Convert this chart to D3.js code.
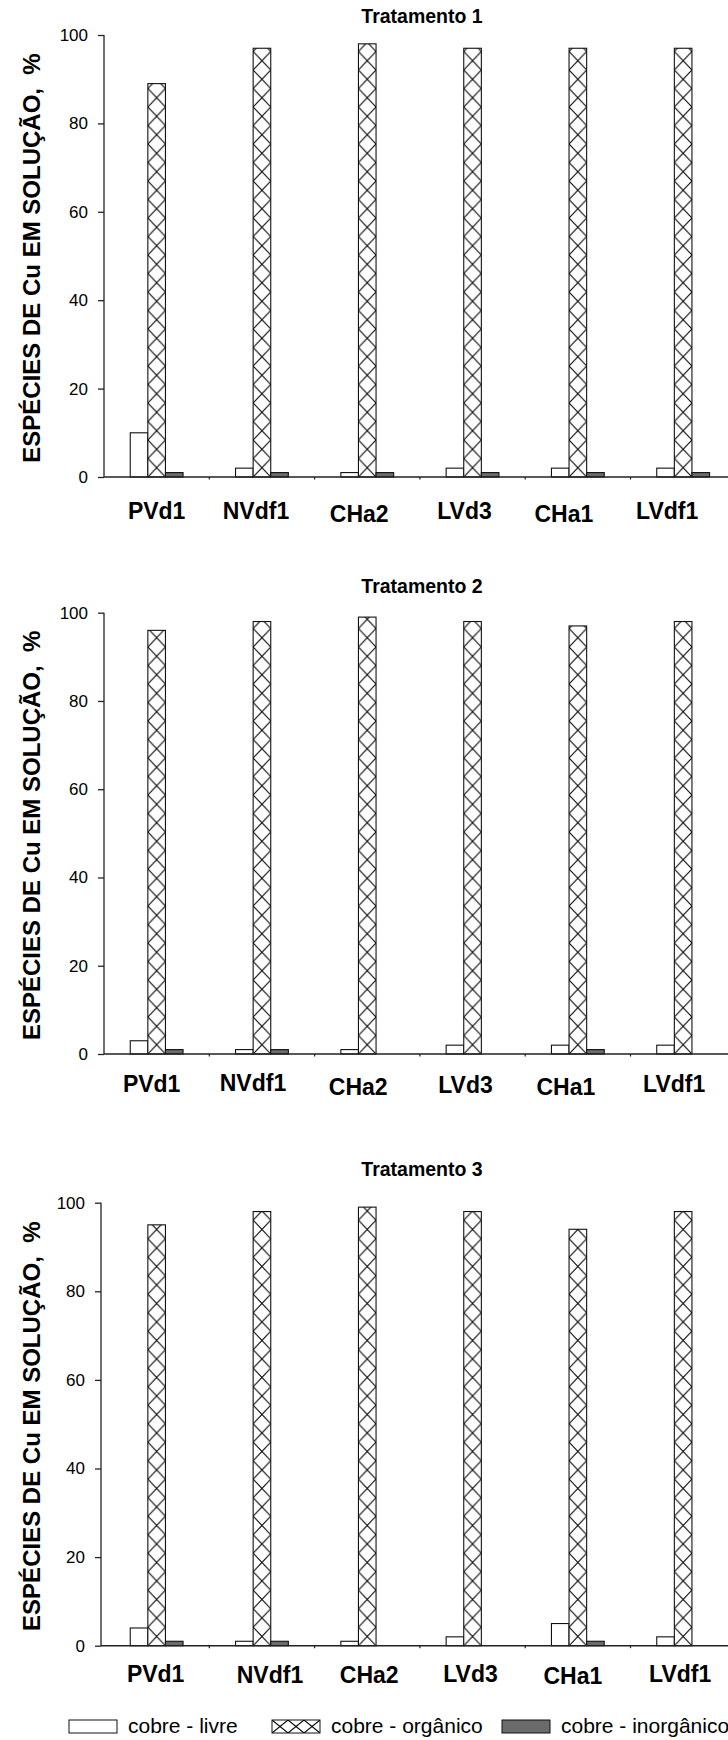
<!DOCTYPE html>
<html>
<head>
<meta charset="utf-8">
<script src="https://cdn.jsdelivr.net/npm/d3@7"></script>
<style>
  html, body { margin: 0; padding: 0; background: #fff; }
  svg { display: block; }
</style>
</head>
<body>
<script>
// Soil samples (categories) and copper species series
const categories = ["PVd1", "NVdf1", "CHa2", "LVd3", "CHa1", "LVdf1"];
const seriesNames = ["cobre - livre", "cobre - orgânico", "cobre - inorgânico"];
const yTicks = [0, 20, 40, 60, 80, 100];
const treatmentTitles = ["Tratamento 1", "Tratamento 2", "Tratamento 3"];
const yLabel = "ESPÉCIES DE Cu EM SOLUÇÃO,  %";

// Percent of Cu in solution per treatment: [livre, orgânico, inorgânico] per soil
const t1Livre = [10, 2, 1, 2, 2, 2];
const t1Organico = [89, 97, 98, 97, 97, 97];
const t1Inorganico = [1, 1, 1, 1, 1, 1];

const t2Livre = [3, 1, 1, 2, 2, 2];
const t2Organico = [96, 98, 99, 98, 97, 98];
const t2Inorganico = [1, 1, 0, 0, 1, 0];

const t3Livre = [4, 1, 1, 2, 5, 2];
const t3Organico = [95, 98, 99, 98, 94, 98];
const t3Inorganico = [1, 1, 0, 0, 1, 0];

const treatments = [
  [t1Livre, t1Organico, t1Inorganico],
  [t2Livre, t2Organico, t2Inorganico],
  [t3Livre, t3Organico, t3Inorganico]
];

// Page layout for the three stacked panels
const W = 728, H = 1740;
const FONT = "'Liberation Sans', Arial, Helvetica, sans-serif";
const panelLayout = [
  { axisX: 104, yTop: 35,    yBase: 477,    titleY: 23,   labelY: 519,
    labelDx: [0, -6, -8, -8, -14, -16], labelDy: [0, 0, 3, 0, 3, 0] },
  { axisX: 104, yTop: 612.7, yBase: 1054,   titleY: 593,  labelY: 1092,
    labelDx: [-5, -9, -9, -7, -12, -9], labelDy: [0, -1, 3, 1, 3, 0] },
  { axisX: 101, yTop: 1202.7, yBase: 1645.7, titleY: 1176, labelY: 1682,
    labelDx: [-1, 8, 2, -2, -5, -3], labelDy: [0, 1, 1, 0, 2, 0] }
];
const bandStart = 104, bandStep = 105.3, barW = 17.6, hatchH = 18.5;

const svg = d3.select("body").append("svg")
  .attr("width", W).attr("height", H)
  .attr("viewBox", `0 0 ${W} ${H}`);
const defs = svg.append("defs");

const x = d3.scaleBand()
  .domain(categories)
  .range([bandStart, bandStart + bandStep * categories.length])
  .paddingInner(0).paddingOuter(0);

const xSeries = d3.scaleBand()
  .domain(d3.range(seriesNames.length))
  .range([0, barW * seriesNames.length]);

const fills = ["#ffffff", null, "#6b6b6b"];
const strokeCol = "#111";

// Cross-hatch pattern anchored to a rectangle's origin
function hatchPattern(id, px, py, w, h) {
  const p = defs.append("pattern")
    .attr("id", id)
    .attr("patternUnits", "userSpaceOnUse")
    .attr("x", px).attr("y", py)
    .attr("width", w).attr("height", h);
  p.append("rect").attr("width", w).attr("height", h).attr("fill", "#fff");
  p.append("path")
    .attr("d", `M0,0L${w},${h}M${w},0L0,${h}`)
    .attr("stroke", "#000").attr("stroke-width", 1.1).attr("fill", "none");
  return `url(#${id})`;
}

panelLayout.forEach((L, pi) => {
  const g = svg.append("g");
  const y = d3.scaleLinear().domain([0, 100]).range([L.yBase, L.yTop]);
  const values = treatments[pi];

  // title
  g.append("text")
    .attr("x", 422).attr("y", L.titleY)
    .attr("text-anchor", "middle")
    .attr("font-family", FONT).attr("font-weight", "bold").attr("font-size", 19.5)
    .text(treatmentTitles[pi]);

  // y axis
  const yAxis = d3.axisLeft(y).tickValues(yTicks).tickSize(6).tickPadding(10);
  const ya = g.append("g").attr("transform", `translate(${L.axisX},0)`).call(yAxis);
  ya.select(".domain").attr("stroke", "#222").attr("stroke-width", 1.3).attr("d", `M0,${L.yTop}V${L.yBase}`);
  ya.selectAll(".tick line").attr("stroke", "#222").attr("stroke-width", 1.3);
  ya.selectAll(".tick text")
    .attr("font-family", FONT).attr("font-size", 17).attr("fill", "#000");

  // y axis title
  g.append("text")
    .attr("transform", `translate(40,${(L.yTop + L.yBase) / 2 + 2}) rotate(-90)`)
    .attr("text-anchor", "middle")
    .attr("font-family", FONT).attr("font-weight", "bold").attr("font-size", 24)
    .style("white-space", "pre")
    .text(yLabel);

  // bars
  categories.forEach((cat, ci) => {
    const gx = x(cat) + (x.bandwidth() - xSeries.range()[1]) / 2;
    seriesNames.forEach((s, si) => {
      const v = values[si][ci];
      if (v <= 0) return;
      const bx = gx + xSeries(si);
      const by = y(v);
      let fill = fills[si];
      if (si === 1) fill = hatchPattern(`h${pi}_${ci}`, bx, L.yBase, xSeries.bandwidth(), hatchH);
      g.append("rect")
        .attr("x", bx).attr("y", by)
        .attr("width", xSeries.bandwidth()).attr("height", y(0) - by)
        .attr("fill", fill)
        .attr("stroke", strokeCol).attr("stroke-width", 1.1);
    });
  });

  // x axis line with small marks between categories
  g.append("line")
    .attr("x1", L.axisX).attr("x2", W)
    .attr("y1", L.yBase).attr("y2", L.yBase)
    .attr("stroke", "#222").attr("stroke-width", 1.6);
  g.selectAll("line.sep").data(categories.slice(1)).join("line")
    .attr("class", "sep")
    .attr("x1", d => x(d)).attr("x2", d => x(d))
    .attr("y1", L.yBase).attr("y2", L.yBase + 2.5)
    .attr("stroke", "#222").attr("stroke-width", 1.2);

  // category labels
  g.selectAll("text.cat").data(categories).join("text")
    .attr("class", "cat")
    .attr("x", (d, i) => x(d) + x.bandwidth() / 2 + L.labelDx[i])
    .attr("y", (d, i) => L.labelY + L.labelDy[i])
    .attr("text-anchor", "middle")
    .attr("font-family", FONT).attr("font-weight", "bold").attr("font-size", 23)
    .text(d => d);
});

// legend
const legendX = [69, 272, 502];
const legendBoxW = 48, legendBoxH = 13, legendY = 1720;
const lg = svg.append("g");
seriesNames.forEach((s, i) => {
  let fill = fills[i];
  if (i === 1) fill = hatchPattern("hLegend", legendX[i], legendY, legendBoxW / 3, legendBoxH);
  lg.append("rect")
    .attr("x", legendX[i]).attr("y", legendY)
    .attr("width", legendBoxW).attr("height", legendBoxH)
    .attr("fill", fill).attr("stroke", strokeCol).attr("stroke-width", 1);
  lg.append("text")
    .attr("x", legendX[i] + legendBoxW + 11).attr("y", legendY + 13)
    .attr("font-family", FONT).attr("font-size", 21)
    .text(s);
});
</script>
</body>
</html>
